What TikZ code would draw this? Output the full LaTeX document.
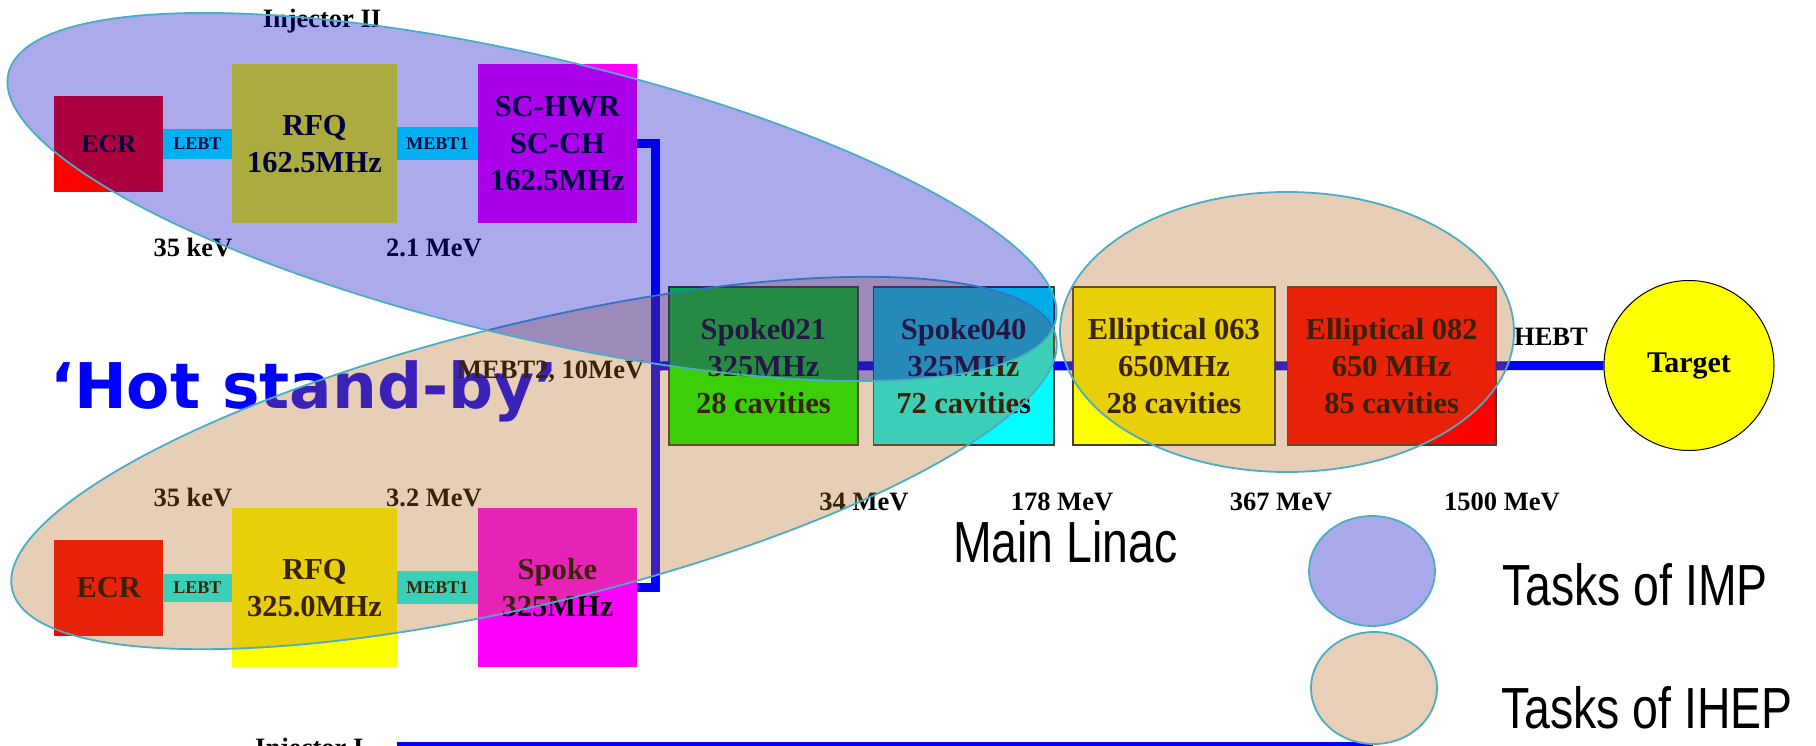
\documentclass[tikz,border=0pt]{standalone}
\usepackage{fontspec}
\setmainfont{Liberation Serif}
\newfontfamily\narrowsans[FakeStretch=0.8]{Liberation Sans}
\newfontfamily\heavysans{DejaVu Sans}
\usepackage{tikz}
\usetikzlibrary{shapes.geometric, positioning}
\definecolor{impblue}{RGB}{0, 0, 194}
\definecolor{ihepbrown}{RGB}{181, 106, 31}
\definecolor{zoneline}{RGB}{75, 172, 198}
\definecolor{lebtblue}{RGB}{0, 176, 240}
\definecolor{beamblue}{RGB}{0, 0, 255}
\definecolor{legimp}{RGB}{170, 170, 235}
\definecolor{legihep}{RGB}{232, 208, 184}
\definecolor{textnavy}{RGB}{10, 10, 70}
\definecolor{darkedge}{RGB}{70, 60, 50}
\definecolor{boxred}{RGB}{255, 0, 0}
\definecolor{boxyellow}{RGB}{255, 255, 0}
\definecolor{boxmagenta}{RGB}{255, 0, 255}
\definecolor{boxgreen}{RGB}{0, 255, 0}
\definecolor{boxcyan}{RGB}{0, 255, 255}

\begin{document}
\begin{tikzpicture}[
    x=1pt, y=-1pt,
    node distance=69pt,
    srcbox/.style={rectangle, inner sep=0pt, outer sep=0pt, minimum height=159pt, align=center, font=\bfseries\fontsize{30.5pt}{37pt}\selectfont},
    linacbox/.style={rectangle, inner sep=0pt, outer sep=0pt, minimum height=158pt, draw=darkedge, line width=1.2pt, align=center, font=\bfseries\fontsize{30.5pt}{37pt}\selectfont},
    band/.style={rectangle, inner sep=0pt, outer sep=0pt, minimum width=69pt, minimum height=30pt, font=\bfseries\fontsize{18pt}{18pt}\selectfont},
    energy/.style={anchor=base, inner sep=0pt, font=\bfseries\fontsize{26.5pt}{26.5pt}\selectfont},
    zone/.style={ellipse, inner sep=0pt, outer sep=0pt, draw=zoneline, line width=1.8pt},
    impzone/.style={zone, fill=impblue, fill opacity=0.33},
    ihepzone/.style={zone, fill=ihepbrown, fill opacity=0.32},
    beam/.style={draw=beamblue, line width=9pt, line join=miter},
    bigsans/.style={anchor=base west, inner sep=0pt, font=\narrowsans\fontsize{58pt}{58pt}\selectfont}
]
    \useasboundingbox (0,0) rectangle (1816,745);

    % labels under the zones
    \node[energy] (injII) at (322,27) {Injector II};
    \node[anchor=base west, inner sep=0pt, text=beamblue, font=\heavysans\bfseries\fontsize{63pt}{63pt}\selectfont] (hotsb) at (50,408) {‘Hot stand-by’};
    \node[energy, anchor=base west] (mebt2) at (457,378) {MEBT2, 10MeV};
    \node[energy] (eA1) at (193,256) {35 keV};
    \node[energy] (eA2) at (434,256) {2.1 MeV};
    \node[energy] (eB1) at (193,506) {35 keV};
    \node[energy] (eB2) at (434,506) {3.2 MeV};
    \node[energy] (e34) at (864,510) {34 MeV};
    \node[energy] (e178) at (1062,510) {178 MeV};
    \node[energy] (e367) at (1281,510) {367 MeV};
    \node[energy] (e1500) at (1502,510) {1500 MeV};
    \node[bigsans] (mainlinac) at (953,562) {Main Linac};

    % injector II
    \node[srcbox, fill=boxred, minimum width=108.5pt, minimum height=96pt, font=\bfseries\fontsize{26pt}{26pt}\selectfont] (ecrA) at (108.7,143.8) {ECR};
    \node[srcbox, fill=boxyellow, minimum width=165pt, right=69pt of ecrA] (rfqA) {RFQ\\162.5MHz};
    \node[srcbox, fill=boxmagenta, minimum width=159pt, right=81pt of rfqA] (schwr) {SC-HWR\\SC-CH\\162.5MHz};

    % injector I
    \node[srcbox, fill=boxred, minimum width=108.5pt, minimum height=96pt] (ecrB) at (108.7,587.8) {ECR};
    \node[srcbox, fill=boxyellow, minimum width=165pt, right=69pt of ecrB] (rfqB) {RFQ\\325.0MHz};
    \node[srcbox, fill=boxmagenta, minimum width=159pt, right=81pt of rfqB] (spkB) {Spoke\\325MHz};
    \node[band, fill=boxcyan, minimum height=28pt, right=0pt of ecrB] (lebtB) {LEBT};
    \node[band, fill=boxcyan, minimum width=81pt, minimum height=33pt, right=0pt of rfqB] (mebtB) {MEBT1};

    % main linac
    \node[linacbox, fill=boxgreen, minimum width=189pt] (sp021) at (763.4,365.9) {Spoke021\\325MHz\\28 cavities};
    \node[linacbox, fill=boxcyan, minimum width=180.6pt, right=15.4pt of sp021] (sp040) {Spoke040\\325MHz\\72 cavities};
    \node[linacbox, fill=boxyellow, minimum width=202pt, right=19pt of sp040] (ell063) {Elliptical 063\\650MHz\\28 cavities};
    \node[linacbox, fill=boxred, minimum width=208.5pt, right=12.5pt of ell063] (ell082) {Elliptical 082\\650 MHz\\85 cavities};
    \node[circle, draw=black, line width=1pt, fill=boxyellow, minimum size=170pt, inner sep=0pt, font=\bfseries\fontsize{30pt}{30pt}\selectfont] (target) at (1689,365.5) {Target};
    \node[energy] (hebt) at (1551,345) {HEBT};

    \coordinate (jn) at (655,366);
    \draw[beam] (schwr.east) -| (jn) |- (spkB.east);
    \draw[beam] (jn) -- (sp021) -- (sp040) -- (ell063) -- (ell082) -- (target);

    % task zones
    \node[ihepzone, minimum width=1074pt, minimum height=280pt, rotate=13.7] (ihep) at (534,463) {};
    \node[impzone, minimum width=1076pt, minimum height=280pt, rotate=-13.3] (imp) at (532,197) {};
    \node[ihepzone, minimum width=454pt, minimum height=280pt] (ihepEll) at (1287,332) {};

    \node[band, fill=lebtblue, text=textnavy, right=0pt of ecrA] (lebtA) {LEBT};
    \node[band, fill=lebtblue, text=textnavy, minimum width=81pt, minimum height=33pt, right=0pt of rfqA] (mebtA) {MEBT1};

    % bottom
    \node[anchor=base west, inner sep=0pt, font=\bfseries\fontsize{26.5pt}{26.5pt}\selectfont] (injI) at (255,756) {Injector I};
    \coordinate (botL) at (397,744);
    \coordinate (botR) at (1373,744);
    \draw[draw=beamblue, line width=4pt] (botL) -- (botR);

    % legend
    \node[zone, fill=legimp, minimum width=126pt, minimum height=110pt] (legIMP) at (1372,571) {};
    \node[zone, fill=legihep, minimum width=126pt, minimum height=112pt] (legIHEP) at (1374,688) {};
    \node[bigsans] (txtIMP) at (1502,605) {Tasks of IMP};
    \node[bigsans] (txtIHEP) at (1501,728) {Tasks of IHEP};
\end{tikzpicture}
\end{document}
